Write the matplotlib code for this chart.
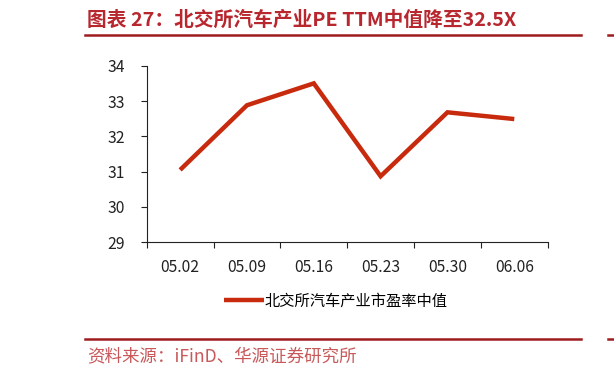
import matplotlib
matplotlib.use("Agg")
import matplotlib.pyplot as plt
from matplotlib.lines import Line2D
from matplotlib.ticker import FixedLocator, NullFormatter, FixedFormatter

plt.rcParams['font.family'] = ['Noto Sans CJK SC', 'DejaVu Sans']

# ---- data ----
dates = ["05.02", "05.09", "05.16", "05.23", "05.30", "06.06"]
pe_median = [31.05, 32.88, 33.50, 30.87, 32.68, 32.49]
series_name = "北交所汽车产业市盈率中值"
y_ticks = [29, 30, 31, 32, 33, 34]
title_text = "图表 27：北交所汽车产业PE TTM中值降至32.5X"
source_text = "资料来源：iFinD、华源证券研究所"

W, H = 614, 377
fig = plt.figure(figsize=(W / 100, H / 100), dpi=100)

ax = fig.add_axes([146.7 / W, 1 - 242.3 / H, (547.7 - 146.7) / W, (242.3 - 65.7) / H])
x = list(range(len(dates)))
line, = ax.plot(x, pe_median, color="#C82A0E", lw=3.2, solid_joinstyle="miter",
                solid_capstyle="butt", label=series_name)

ax.set_xlim(-0.5, len(dates) - 0.5)
ax.set_ylim(y_ticks[0], y_ticks[-1])
ax.set_yticks(y_ticks)
ax.set_yticklabels([str(v) for v in y_ticks])

ax.xaxis.set_major_locator(FixedLocator([i - 0.5 for i in range(len(dates) + 1)]))
ax.xaxis.set_major_formatter(NullFormatter())
ax.xaxis.set_minor_locator(FixedLocator(x))
ax.xaxis.set_minor_formatter(FixedFormatter(dates))
ax.tick_params(axis="x", which="major", direction="out", length=4, width=0.8, color="#222222")
ax.tick_params(axis="x", which="minor", length=0, labelsize=11.3, pad=12, labelcolor="#222222")
ax.tick_params(axis="y", which="major", direction="out", length=4, width=0.8,
               color="#222222", labelsize=11.3, labelcolor="#222222", pad=11.5)

for s in ["top", "right"]:
    ax.spines[s].set_visible(False)
for s in ["left", "bottom"]:
    ax.spines[s].set_color("#222222")
    ax.spines[s].set_linewidth(0.8)

# legend
fig.legend(handles=[line], loc="center", bbox_to_anchor=(336 / W, 1 - 301 / H),
           frameon=False, fontsize=11, handlelength=2.6, handletextpad=0.05,
           borderpad=0, borderaxespad=0)

# title and rules
title_color = "#B8262E"
rule_color = "#9E1B1E"
fig.text(87 / W, 1 - 20 / H, title_text, fontsize=14.2, fontweight="bold",
         color=title_color, ha="left", va="center")
fig.add_artist(Line2D([85 / W, 580.7 / W], [1 - 34.5 / H] * 2, color=rule_color, lw=1.8))
fig.add_artist(Line2D([608 / W, 1.0], [1 - 34.5 / H] * 2, color=rule_color, lw=1.8))
fig.add_artist(Line2D([85 / W, 580.7 / W], [1 - 338.7 / H] * 2, color=rule_color, lw=1.8))
fig.add_artist(Line2D([608 / W, 1.0], [1 - 338.7 / H] * 2, color=rule_color, lw=1.8))

fig.text(87 / W, 1 - 356.5 / H, source_text, fontsize=12.6, color="#C8585A",
         ha="left", va="center")

fig.savefig("out.png", dpi=100)
